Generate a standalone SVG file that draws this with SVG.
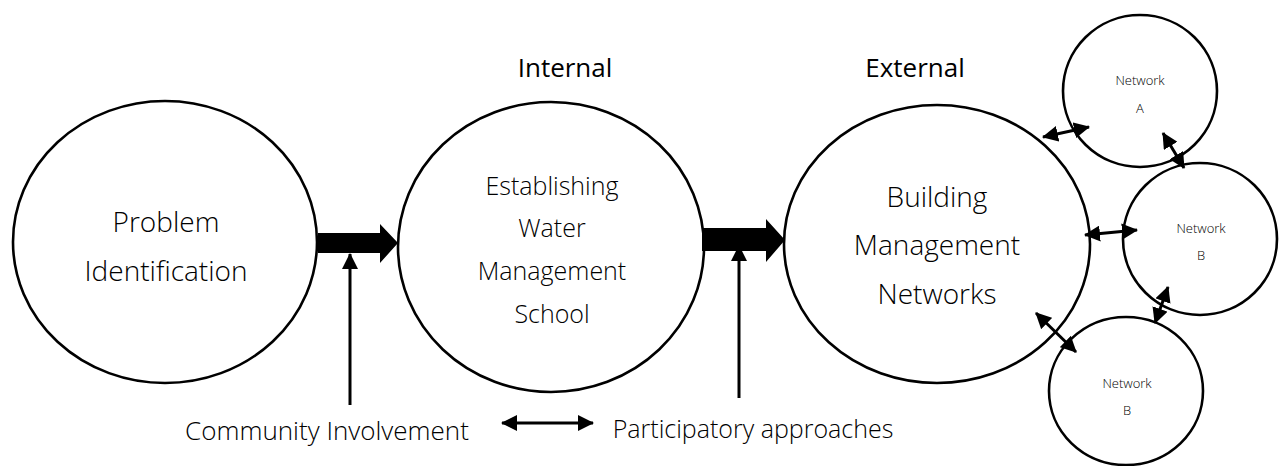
<svg xmlns="http://www.w3.org/2000/svg" width="1284" height="466" viewBox="0 0 1284 466">
<style>
.node{fill:#fff;stroke:#000;stroke-width:2.6}
.t{font-family:"Open Sans","Noto Sans",sans-serif;font-weight:300;fill:#000;text-anchor:middle}
.big{font-size:26px}
.small{font-size:13px}
.hdr{font-family:"Open Sans","Noto Sans",sans-serif;font-weight:500;font-size:26px;fill:#000;text-anchor:middle}
.thin{stroke:#000;stroke-width:3;fill:none}
</style>
<defs>
<marker id="ah" viewBox="0 0 16 16" refX="15" refY="8" markerWidth="16" markerHeight="16" markerUnits="userSpaceOnUse" orient="auto-start-reverse">
<path d="M0,0 L16,8 L0,16 Z" fill="#000"/>
</marker>
</defs>
<rect width="1284" height="466" fill="#fff"/>
<text class="hdr" x="565" y="77">Internal</text>
<text class="hdr" x="915" y="77">External</text>
<g id="n1">
<ellipse class="node" cx="165" cy="242" rx="152" ry="141"/>
<text class="t big" x="166" y="232" style="font-size:28px">Problem</text>
<text class="t big" x="166" y="281" style="font-size:28px">Identification</text>
</g>
<g id="n2">
<ellipse class="node" cx="551" cy="247" rx="153" ry="145"/>
<text class="t big" x="552" y="195" style="font-size:25px">Establishing</text>
<text class="t big" x="552" y="237" style="font-size:25px">Water</text>
<text class="t big" x="552" y="280" style="font-size:25px">Management</text>
<text class="t big" x="552" y="323" style="font-size:25px">School</text>
</g>
<g id="n3">
<ellipse class="node" cx="937" cy="244" rx="153" ry="139"/>
<text class="t big" x="937" y="207" style="font-size:28px">Building</text>
<text class="t big" x="937" y="255" style="font-size:28px">Management</text>
<text class="t big" x="937" y="304" style="font-size:28px">Networks</text>
</g>
<g id="na">
<ellipse class="node" cx="1140" cy="91" rx="77" ry="76"/>
<text class="t small" x="1140" y="85">Network</text>
<text class="t small" x="1140" y="113">A</text>
</g>
<g id="nb1">
<ellipse class="node" cx="1200" cy="239" rx="77" ry="76"/>
<text class="t small" x="1201" y="233">Network</text>
<text class="t small" x="1201" y="260">B</text>
</g>
<g id="nb2">
<ellipse class="node" cx="1126" cy="391" rx="77" ry="74"/>
<text class="t small" x="1127" y="388">Network</text>
<text class="t small" x="1127" y="415">B</text>
</g>
<g id="connectors">
<path d="M318,233 H380 V224 L398,243 L380,263 V253 H318 Z" fill="#000"/>
<path d="M702,228 H766 V219 L785,240 L766,262 V251 H702 Z" fill="#000"/>
<line class="thin" x1="350" y1="405" x2="350" y2="254" marker-end="url(#ah)"/>
<line class="thin" x1="739" y1="398" x2="739" y2="246" marker-end="url(#ah)"/>
<line class="thin" x1="502" y1="423" x2="593" y2="423" marker-start="url(#ah)" marker-end="url(#ah)"/>
<line class="thin" x1="1043" y1="137" x2="1089" y2="127" marker-start="url(#ah)" marker-end="url(#ah)"/>
<line class="thin" x1="1163" y1="133" x2="1184" y2="168" marker-start="url(#ah)" marker-end="url(#ah)"/>
<line class="thin" x1="1085" y1="235" x2="1137" y2="230" marker-start="url(#ah)" marker-end="url(#ah)"/>
<line class="thin" x1="1168" y1="287" x2="1155" y2="323" marker-start="url(#ah)" marker-end="url(#ah)"/>
<line class="thin" x1="1036" y1="313" x2="1076" y2="352" marker-start="url(#ah)" marker-end="url(#ah)"/>
</g>
<text class="t big" x="327" y="440">Community Involvement</text>
<text class="t big" x="753" y="438" style="font-size:25px">Participatory approaches</text>
</svg>
